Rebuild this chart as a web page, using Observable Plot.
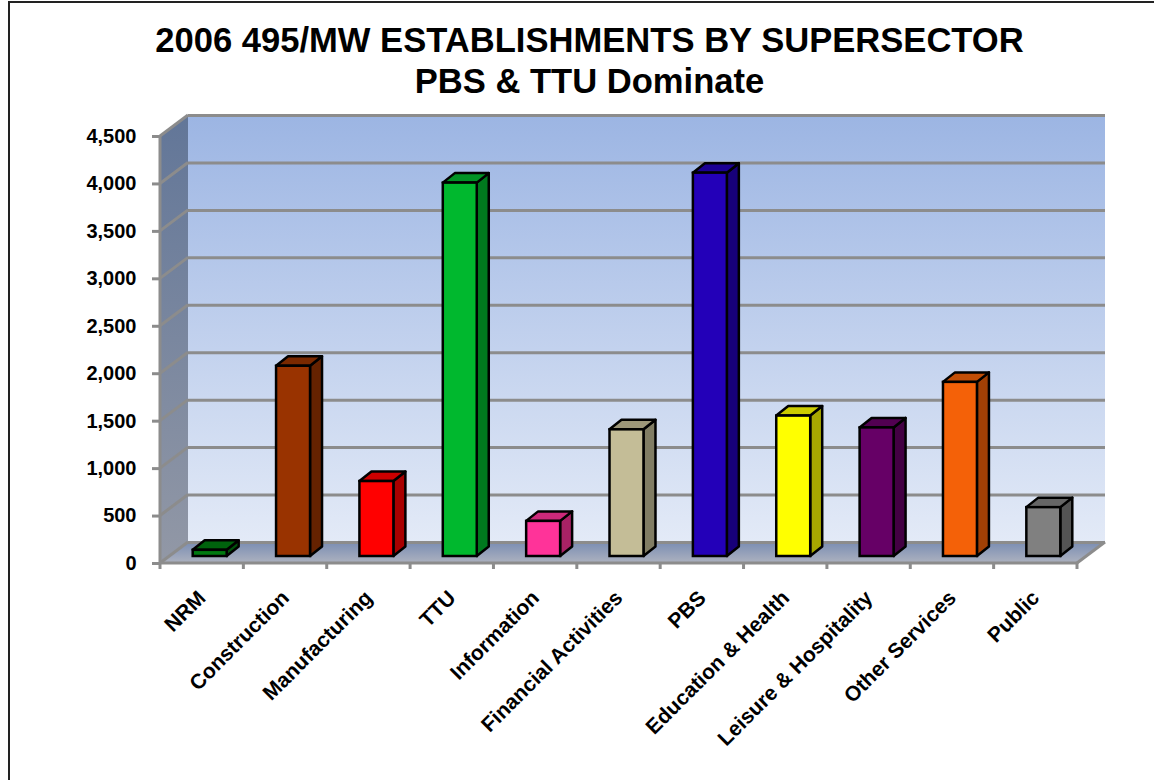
<!DOCTYPE html>
<html>
<head>
<meta charset="utf-8">
<script src="https://cdn.jsdelivr.net/npm/d3@7"></script>
<script src="https://cdn.jsdelivr.net/npm/@observablehq/plot@0.6"></script>
<style>
  html, body { margin: 0; padding: 0; background: #fff; overflow: hidden; }
  #frame { position: absolute; left: 8px; top: 1px; width: 1146px; height: 779px; border-left: 2px solid #222; border-top: 2px solid #222; box-sizing: border-box; }
  #title { position: absolute; left: 0; top: 20px; width: 1179px; text-align: center; font: bold 34.6px/41px "Liberation Sans", Arial, sans-serif; color: #000; }
  #chart { position: absolute; left: 0; top: 100px; }
</style>
</head>
<body>
<div id="frame"></div>
<div id="title">2006 495/MW ESTABLISHMENTS BY SUPERSECTOR<br>PBS &amp; TTU Dominate</div>
<div id="chart"></div>
<script>
const categories = ["NRM","Construction","Manufacturing","TTU","Information","Financial Activities","PBS","Education & Health","Leisure & Hospitality","Other Services","Public"];
const establishments = [65, 2005, 790, 3935, 370, 1335, 4040, 1480, 1355, 1835, 515];
const barColors = ["#007a10","#993300","#ff0000","#00b82e","#ff3399","#c4bd97","#2300b8","#ffff00","#660066","#f46108","#808080"];
const yTicks = [0,500,1000,1500,2000,2500,3000,3500,4000,4500];
const data = categories.map((c, i) => ({category: c, value: establishments[i], color: barColors[i]}));

// Depth of the 3-D box (px) and of each bar
const wallDx = 28, wallDy = -21, barShiftX = 8, barShiftY = -7, barDx = 12, barDy = -9.5, barInset = 24.7;
const gray = "#8c8c8c";

function shade(col, k) {
  const c = d3.rgb(col);
  return d3.rgb(c.r * k, c.g * k, c.b * k).formatHex();
}
function poly(g, pts, attrs) {
  const p = g.append("polygon").attr("points", pts.map(d => d.join(",")).join(" "));
  for (const k in attrs) p.attr(k, attrs[k]);
  return p;
}
function gradient(defs, id, from, to) {
  const g = defs.append("linearGradient").attr("id", id).attr("x1", 0).attr("x2", 0).attr("y1", 0).attr("y2", 1);
  g.append("stop").attr("offset", 0).attr("stop-color", from);
  g.append("stop").attr("offset", 1).attr("stop-color", to);
}

// Walls and floor of the 3-D box, placed by the plot's scales
function walls(index, {x, y}) {
  const g = d3.create("svg:g");
  const defs = g.append("defs");
  gradient(defs, "wallBack", "#9cb5e3", "#e3eaf7");
  gradient(defs, "wallSide", "#627698", "#9298a6");
  gradient(defs, "wallFloor", "#7a8db3", "#adb2bf");
  const L = x(categories[0]), R = x(categories[categories.length - 1]) + x.bandwidth();
  const y0 = y(0), yT = y(yTicks[yTicks.length - 1]);
  poly(g, [[L+wallDx,yT+wallDy],[R+wallDx,yT+wallDy],[R+wallDx,y0+wallDy],[L+wallDx,y0+wallDy]], {fill: "url(#wallBack)"});
  poly(g, [[L,yT],[L+wallDx,yT+wallDy],[L+wallDx,y0+wallDy],[L,y0]], {fill: "url(#wallSide)"});
  poly(g, [[L,y0],[L+wallDx,y0+wallDy],[R+wallDx,y0+wallDy],[R,y0]], {fill: "url(#wallFloor)"});
  return g.node();
}

// Gray box edges: diagonals on the side wall, floor edge, axis line, x ticks at band edges
function edges(index, {x, y}) {
  const g = d3.create("svg:g").attr("stroke", gray).attr("fill", "none").attr("stroke-width", 3);
  const L = x(categories[0]), R = x(categories[categories.length - 1]) + x.bandwidth();
  const y0 = y(0), yT = y(yTicks[yTicks.length - 1]);
  for (const t of yTicks) g.append("line").attr("x1", L).attr("y1", y(t)).attr("x2", L + wallDx).attr("y2", y(t) + wallDy);
  g.append("line").attr("x1", R).attr("y1", y0).attr("x2", R + wallDx).attr("y2", y0 + wallDy);
  g.append("line").attr("x1", L).attr("y1", yT).attr("x2", L).attr("y2", y0);
  g.append("line").attr("x1", L - 1).attr("y1", y0).attr("x2", R + 1).attr("y2", y0);
  categories.forEach((c, i) => {
    g.append("line").attr("x1", x(c)).attr("y1", y0).attr("x2", x(c)).attr("y2", y0 + 6);
  });
  g.append("line").attr("x1", R).attr("y1", y0).attr("x2", R).attr("y2", y0 + 6);
  return g.node();
}

// Side and top faces of each bar
function barFaces(index, {x, y}) {
  const g = d3.create("svg:g").attr("stroke", "#000").attr("stroke-width", 2.5).attr("stroke-linejoin", "round");
  for (const d of data) {
    const l = x(d.category) + barInset + barShiftX;
    const r = x(d.category) + x.bandwidth() - barInset + barShiftX;
    const t = y(d.value) + barShiftY, b = y(0) + barShiftY;
    poly(g, [[r,t],[r+barDx,t+barDy],[r+barDx,b+barDy],[r,b]], {fill: shade(d.color, 0.66)});
    poly(g, [[l,t],[l+barDx,t+barDy],[r+barDx,t+barDy],[r,t]], {fill: shade(d.color, 0.8)});
  }
  return g.node();
}

const chart = Plot.plot({
  width: 1154,
  height: 680,
  marginLeft: 160,
  marginRight: 77,
  marginTop: 36,
  marginBottom: 217,
  style: {background: "transparent", fontFamily: "'Liberation Sans', Arial, sans-serif", fontWeight: "bold", fontSize: "20px", color: "#000"},
  x: {type: "band", domain: categories, padding: 0, round: false, label: null},
  y: {domain: [0, 4500], label: null},
  marks: [
    walls,
    Plot.ruleY(yTicks, {dx: wallDx, dy: wallDy, stroke: gray, strokeWidth: 3}),
    edges,
    Plot.axisY({ticks: yTicks, tickFormat: d3.format(","), tickSize: 8, tickPadding: 16, stroke: gray, strokeWidth: 3, fontSize: 20, label: null}),
    Plot.axisX({tickSize: 0, tickPadding: 31, tickRotate: -45, fontSize: 21, label: null, lineWidth: 30}),
    barFaces,
    Plot.barY(data, {x: "category", y: "value", fill: "color", stroke: "#000", strokeWidth: 2.5, insetLeft: barInset, insetRight: barInset, dx: barShiftX, dy: barShiftY})
  ]
});
document.getElementById("chart").appendChild(chart);
</script>
</body>
</html>
